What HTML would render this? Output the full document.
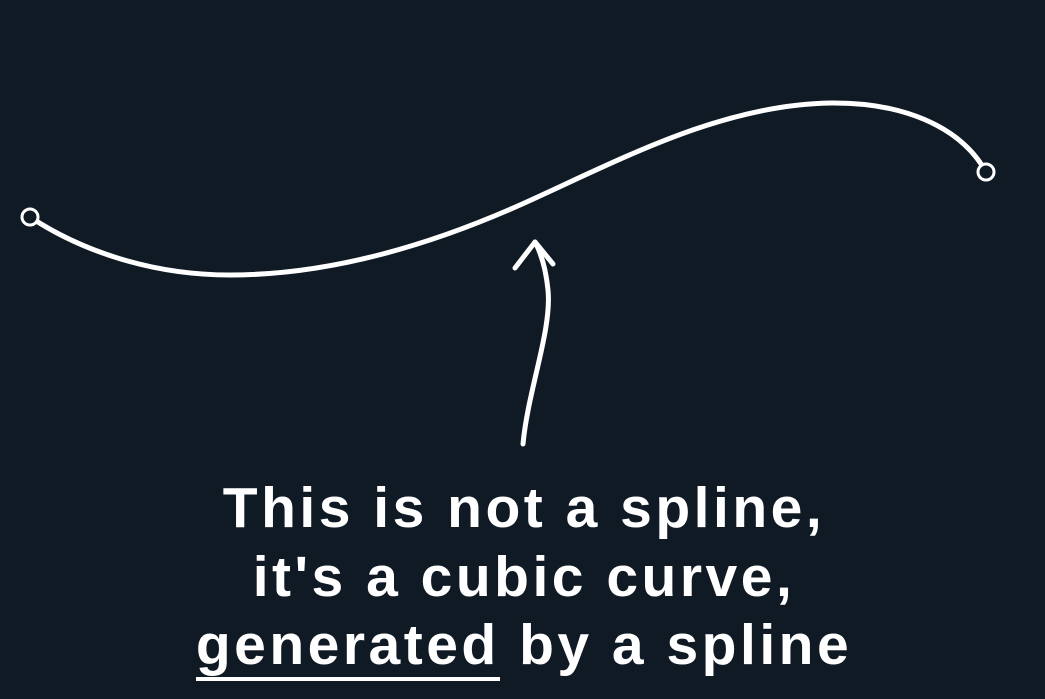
<!DOCTYPE html>
<html><head><meta charset="utf-8"><style>
html,body{margin:0;padding:0;background:#101a25;}
#wrap{position:relative;width:1045px;height:699px;overflow:hidden;background:#101a25;}
.t{position:absolute;left:0;width:1045px;text-align:center;color:#fff;font-family:"Liberation Sans",sans-serif;font-weight:bold;font-size:57px;letter-spacing:3.5px;line-height:60px;text-indent:3px;}
u{text-decoration:none;border-bottom:4px solid #fff;}
</style></head><body>
<div id="wrap">
<svg width="1045" height="699" style="position:absolute;left:0;top:0">
<path d="M30,217 C80,250 150,275 230,275 C330,275 430,245 520,205 C620,160 720,105 830,103 C900,102 960,125 986,172" fill="none" stroke="#fff" stroke-width="5" stroke-linecap="round"/>
<circle cx="30" cy="217" r="8" fill="#101a25" stroke="#fff" stroke-width="3"/>
<circle cx="986" cy="172" r="8" fill="#101a25" stroke="#fff" stroke-width="3"/>
<path d="M523,444 C528,390 552,330 548,290 C546,270 542,255 535,242" fill="none" stroke="#fff" stroke-width="5" stroke-linecap="round"/>
<path d="M515,268 L535,242 L553,264" fill="none" stroke="#fff" stroke-width="5" stroke-linecap="round" stroke-linejoin="round"/>
</svg>
<div class="t" style="top:478px">This is not a spline,</div>
<div class="t" style="top:547px">it's a cubic curve,</div>
<div class="t" style="top:615px"><u>generated</u> by a spline</div>
</div>
</body></html>
